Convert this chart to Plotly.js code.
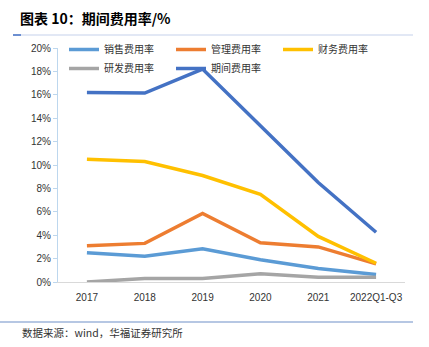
<!DOCTYPE html>
<html>
<head>
<meta charset="utf-8">
<script src="https://cdn.plot.ly/plotly-3.0.1.min.js"></script>
<style>html,body{margin:0;padding:0;background:#fff;}#chart{width:429px;height:347px;}</style>
</head>
<body>
<div id="chart"></div>
<script>
const categories = ['2017', '2018', '2019', '2020', '2021', '2022Q1-Q3'];
const seriesNames = ['销售费用率', '管理费用率', '财务费用率', '研发费用率', '期间费用率'];
const salesRate = [2.5, 2.2, 2.85, 1.9, 1.15, 0.65];
const adminRate = [3.1, 3.3, 5.85, 3.35, 3.0, 1.55];
const financeRate = [10.5, 10.3, 9.1, 7.5, 3.9, 1.6];
const rndRate = [0.0, 0.3, 0.3, 0.7, 0.4, 0.4];
const periodRate = [16.2, 16.15, 18.2, 13.4, 8.5, 4.25];
const colors = ['#5B9BD5', '#ED7D31', '#FFC000', '#A5A5A5', '#4472C4'];
const allSeries = [salesRate, adminRate, financeRate, rndRate, periodRate];

const font = '"Noto Sans CJK SC", "Liberation Sans", sans-serif';
const traces = allSeries.map((vals, i) => ({
  type: 'scatter', mode: 'lines', name: seriesNames[i],
  x: categories, y: vals,
  line: {color: colors[i], width: 3.5},
  hoverinfo: 'skip'
}));

const L = 58, R = 405, T = 48, B = 282;
const px = x => (x - L) / (R - L);
const py = y => (B - y) / (B - T);

const layout = {
  width: 429, height: 347,
  margin: {l: L, r: 429 - R, t: T, b: 347 - B},
  paper_bgcolor: '#fff', plot_bgcolor: '#fff',
  font: {family: font, size: 10, color: '#333'},
  showlegend: true,
  title: {text: '<b>图表 10：期间费用率/%</b>', x: 20/429, xanchor: 'left', xref: 'container',
          y: 1 - 19/347, yanchor: 'middle', yref: 'container',
          font: {family: font, size: 14, color: '#000'}},
  legend: {orientation: 'h', x: px(64), y: py(35), xanchor: 'left', yanchor: 'top',
           bgcolor: 'rgba(0,0,0,0)', font: {family: font, size: 10, color: '#333'},
           entrywidth: 62, entrywidthmode: 'pixels', tracegroupgap: 0, itemwidth: 30},
  xaxis: {type: 'category', range: [-0.5, 5.5], showgrid: false, zeroline: false,
          showline: true, linecolor: '#D9D9D9', linewidth: 1, ticks: '', ticklabelstandoff: 6,
          tickfont: {family: '"Liberation Sans", Arial, sans-serif', size: 10, color: '#333'}, fixedrange: true},
  yaxis: {range: [0, 20], dtick: 2, ticksuffix: '%', showgrid: false, zeroline: false,
          showline: true, linecolor: '#BDD7EE', linewidth: 1, ticks: 'outside', ticklen: 4,
          tickcolor: '#BDD7EE', tickfont: {family: '"Liberation Sans", Arial, sans-serif', size: 10, color: '#333'}, fixedrange: true},
  shapes: [
    {type: 'line', xref: 'paper', yref: 'paper', x0: px(13), x1: px(413), y0: py(35), y1: py(35),
     line: {color: '#D9E1F2', width: 1.5}},
    {type: 'line', xref: 'paper', yref: 'paper', x0: px(13), x1: px(21), y0: py(35), y1: py(35),
     line: {color: '#4472C4', width: 1.5}},
    {type: 'line', xref: 'paper', yref: 'paper', x0: px(0), x1: px(413), y0: py(322), y1: py(322),
     line: {color: '#6F8FC8', width: 1.2}}
  ],
  annotations: [
    {text: '数据来源：wind，华福证券研究所', xref: 'paper', yref: 'paper', x: px(20), y: py(332),
     xanchor: 'left', yanchor: 'middle', showarrow: false, font: {family: font, size: 10.5, color: '#333'}}
  ]
};

Plotly.newPlot('chart', traces, layout, {displayModeBar: false, staticPlot: true});
</script>
</body>
</html>
